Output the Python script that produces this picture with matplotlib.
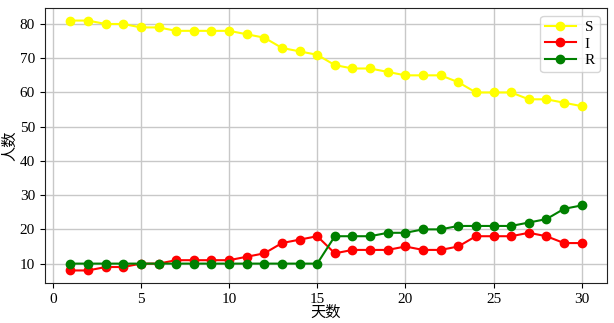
import numpy as np
import matplotlib.pyplot as plt

plt.rcParams['font.family'] = ['Liberation Serif', 'Noto Sans CJK SC']

days = list(range(1, 31))
s_vals = [81, 81, 80, 80, 79, 79, 78, 78, 78, 78, 77, 76, 73, 72, 71,
          68, 67, 67, 66, 65, 65, 65, 63, 60, 60, 60, 58, 58, 57, 56]
i_vals = [8, 8, 9, 9, 10, 10, 11, 11, 11, 11, 12, 13, 16, 17, 18,
          13, 14, 14, 14, 15, 14, 14, 15, 18, 18, 18, 19, 18, 16, 16]
r_vals = [10, 10, 10, 10, 10, 10, 10, 10, 10, 10, 10, 10, 10, 10, 10,
          18, 18, 18, 19, 19, 20, 20, 21, 21, 21, 21, 22, 23, 26, 27]

fig, ax = plt.subplots(figsize=(6.14, 3.23), dpi=100)
fig.subplots_adjust(left=0.073, right=0.989, top=0.975, bottom=0.124)

ax.plot(days, s_vals, '-o', color='yellow', ms=6, lw=1.5, label='S')
ax.plot(days, i_vals, '-o', color='red', ms=6, lw=1.5, label='I')
ax.plot(days, r_vals, '-o', color='green', ms=6, lw=1.5, label='R')

ax.grid(True, color='#c8c8c8', lw=1)
ax.set_axisbelow(True)
ax.set_xticks([0, 5, 10, 15, 20, 25, 30])
ax.set_yticks([10, 20, 30, 40, 50, 60, 70, 80])
ax.tick_params(labelsize=11)
ax.set_xlabel('天数', fontsize=11, labelpad=0)
ax.set_ylabel('人数', fontsize=11, labelpad=2)
for sp in ax.spines.values():
    sp.set_color('#222222')
ax.legend(loc='upper right', fontsize=11, handlelength=2, borderpad=0.3,
          labelspacing=0.2, handletextpad=0.6)

fig.savefig('out.png')
